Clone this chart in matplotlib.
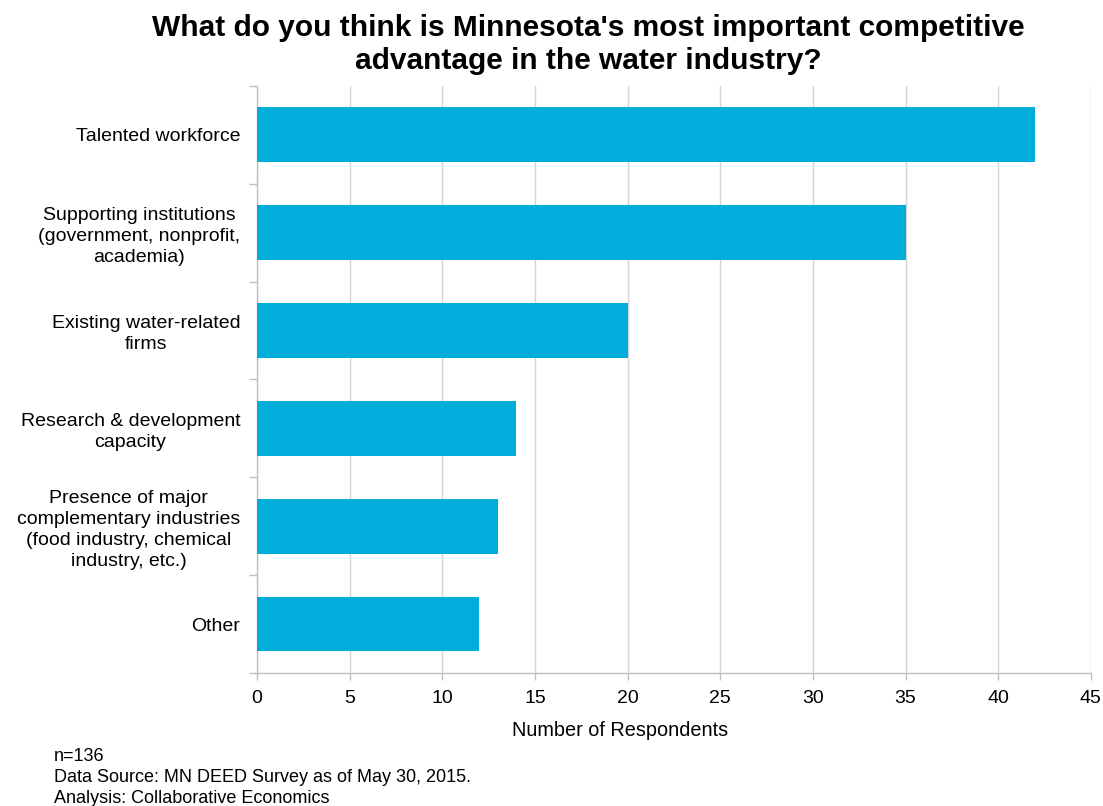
import numpy as np
import matplotlib
matplotlib.use("Agg")
import matplotlib.pyplot as plt

plt.rcParams['font.family'] = ['Liberation Sans', 'DejaVu Sans']

# survey answers, top to bottom
categories = [
    "Talented workforce",
    "Supporting institutions\n(government, nonprofit,\nacademia)",
    "Existing water-related\nfirms",
    "Research & development\ncapacity",
    "Presence of major\ncomplementary industries\n(food industry, chemical\nindustry, etc.)",
    "Other",
]
respondents = [42, 35, 20, 14, 13, 12]
x_ticks = [0, 5, 10, 15, 20, 25, 30, 35, 40, 45]

title = "What do you think is Minnesota's most important competitive\nadvantage in the water industry?"
note = "n=136\nData Source: MN DEED Survey as of May 30, 2015.\nAnalysis: Collaborative Economics"

bar_color = '#00ADDB'
grey = '#BFBFBF'

fig = plt.figure(figsize=(11.03, 8.06), dpi=100)
ax = fig.add_axes([0.233, 0.165, 0.756, 0.7285])

y = np.arange(len(categories))
ax.barh(y, respondents, height=0.56, color=bar_color, zorder=3)

ax.set_xlim(0, 45)
ax.set_ylim(len(categories) - 0.5, -0.5)

# x axis: ticks + vertical grid
ax.set_xticks(x_ticks)
ax.set_xticklabels([str(v) for v in x_ticks], fontsize=14)
ax.tick_params(axis='x', length=5, width=1, color=grey, pad=7)
ax.xaxis.grid(True, color='#D4D4D4', linewidth=1, zorder=0)

# y axis: tick marks between categories, labels on the centers
ax.set_yticks(np.arange(-0.5, len(categories), 1.0))
ax.set_yticklabels([])
ax.tick_params(axis='y', which='major', length=6, width=1, color=grey)
ax.set_yticks(y, minor=True)
ax.set_yticklabels(categories, minor=True, fontsize=14)
ax.tick_params(axis='y', which='minor', length=0, pad=12)
for lbl in ax.get_yticklabels(minor=True):
    lbl.set_multialignment('center')
    lbl.set_linespacing(1.3)

for side in ['top', 'right']:
    ax.spines[side].set_visible(False)
for side in ['left', 'bottom']:
    ax.spines[side].set_color(grey)
    ax.spines[side].set_linewidth(1)

fig.text(0.533, 0.945, title, ha='center', va='center', fontsize=21.5,
         fontweight='bold', multialignment='center', linespacing=1.2)
fig.text(0.562, 0.094, "Number of Respondents", ha='center', va='center', fontsize=14.3)
fig.text(0.049, 0.072, note, ha='left', va='top', fontsize=13, linespacing=1.3)

fig.savefig('out.png', dpi=100)
